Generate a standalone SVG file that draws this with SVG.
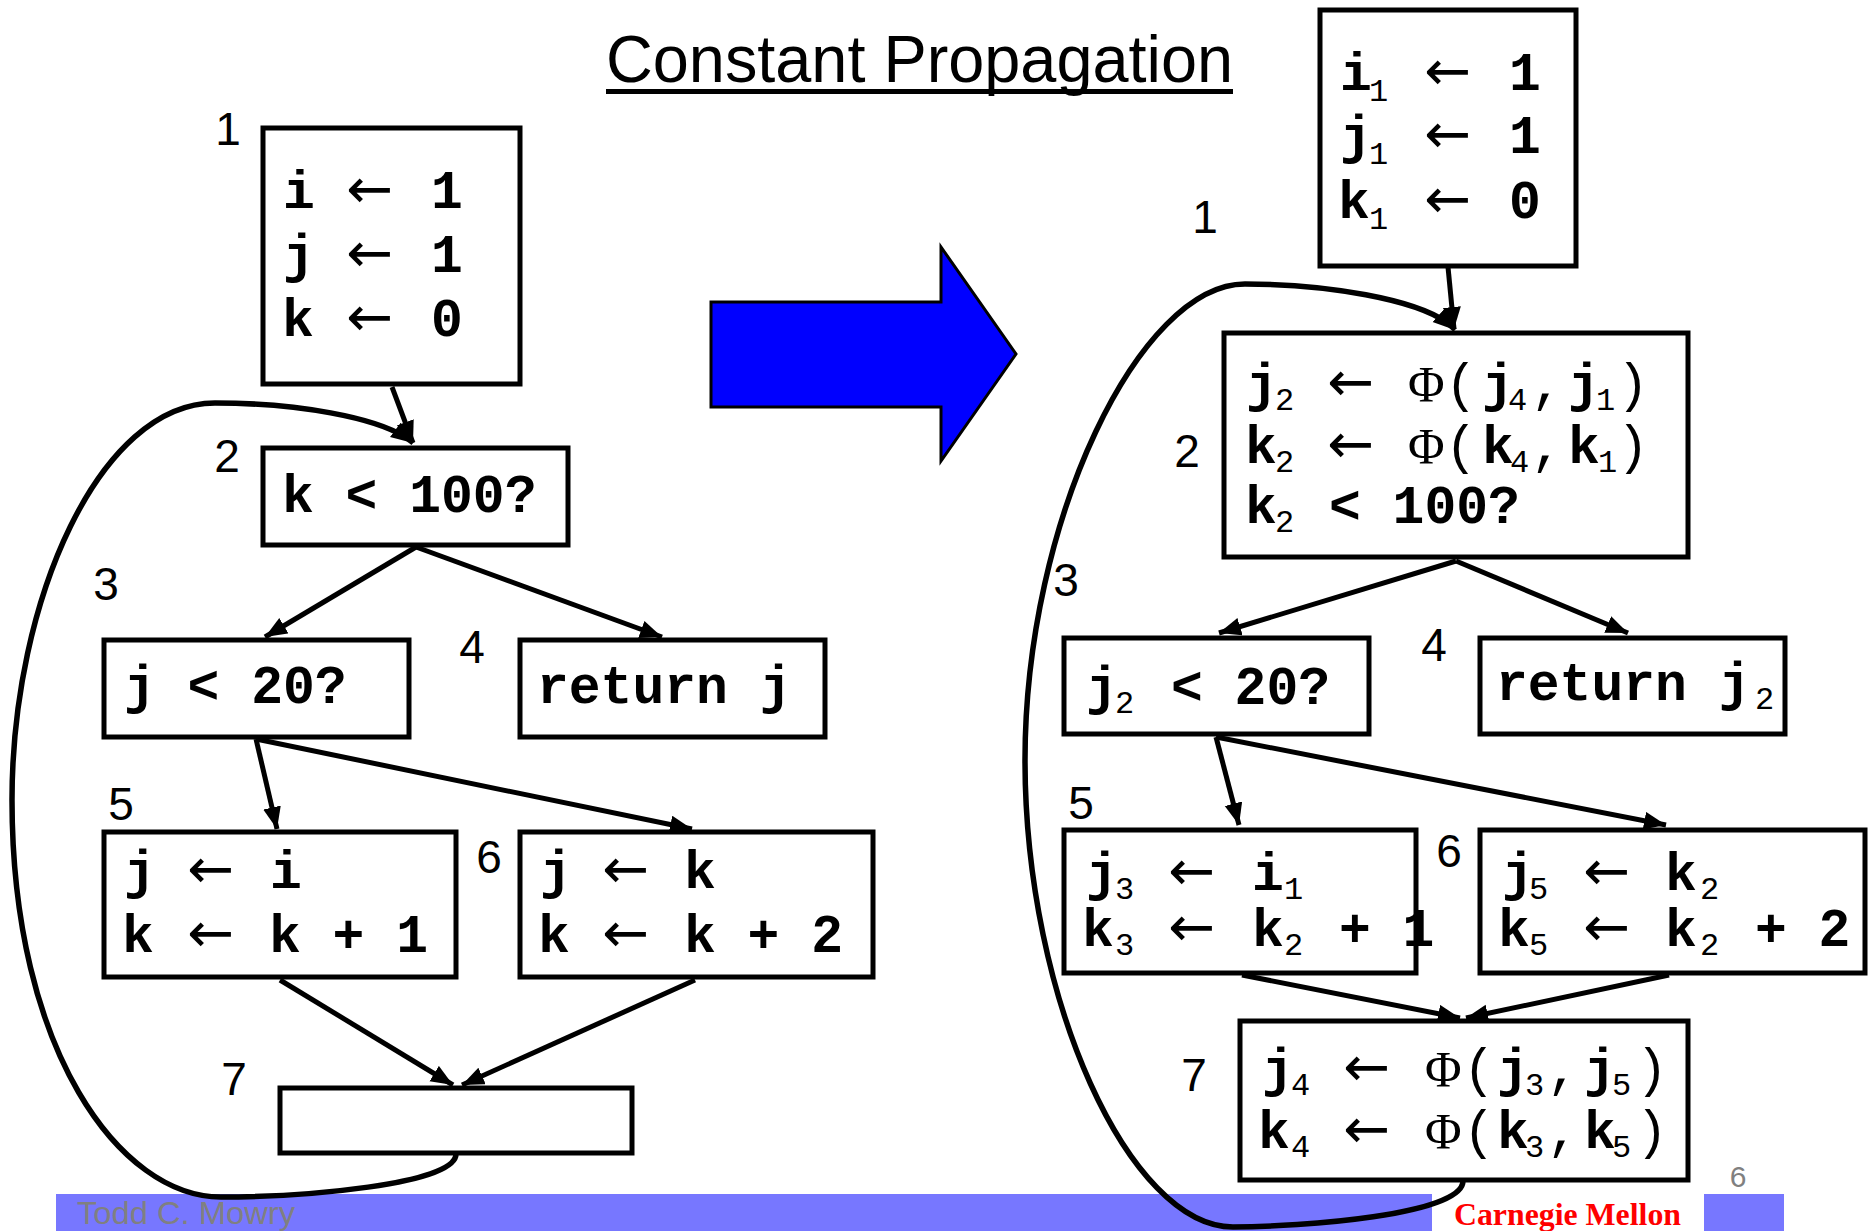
<svg xmlns="http://www.w3.org/2000/svg" width="1871" height="1231" viewBox="0 0 1871 1231">
<defs>
<marker id="ah" markerUnits="userSpaceOnUse" markerWidth="24" markerHeight="20" refX="22" refY="9" orient="auto">
<path d="M0,0 L22,9 L0,18 z" fill="#000"/>
</marker>
<style>
.box{fill:#fff;stroke:#000;stroke-width:5}
.edge{fill:none;stroke:#000;stroke-width:5;marker-end:url(#ah)}
.loop{fill:none;stroke:#000;stroke-width:5.5}
.c{font-family:"Liberation Mono","Courier New",monospace;font-weight:bold;font-size:53px;fill:#000}
.p{font-weight:normal}
.ar{font-family:"DejaVu Sans",sans-serif;font-weight:normal;font-size:56px}
.ph{font-family:"Liberation Serif","Times New Roman",serif;font-weight:normal;font-size:50px}
.s{font-family:"Liberation Mono","Courier New",monospace;font-weight:normal;font-size:32px}
.lbl{font-family:"Liberation Sans",Arial,sans-serif;font-size:46px;fill:#000}
</style>
</defs>
<rect width="1871" height="1231" fill="#fff"/>

<!-- footer -->
<g id="footer">
<rect x="56" y="1194" width="1376" height="37" fill="#7777ff"/>
<rect x="1704" y="1194" width="80" height="37" fill="#7777ff"/>
<text x="77" y="1224" font-family="Liberation Sans,Arial,sans-serif" font-size="32" fill="#808080" textLength="218" lengthAdjust="spacingAndGlyphs">Todd C. Mowry</text>
<text x="1454" y="1225" font-family="Liberation Serif,Times New Roman,serif" font-weight="bold" font-size="31" fill="#ff0000" textLength="227" lengthAdjust="spacingAndGlyphs">Carnegie Mellon</text>
<text x="1738" y="1187" text-anchor="middle" font-family="Liberation Sans,Arial,sans-serif" font-size="30" fill="#808080">6</text>
</g>

<!-- title -->
<g id="title">
<text x="606" y="82" font-family="Liberation Sans,Arial,sans-serif" font-size="66" fill="#000" textLength="627" lengthAdjust="spacingAndGlyphs">Constant Propagation</text>
<rect x="606" y="89" width="627" height="5" fill="#000"/>
</g>

<!-- big blue arrow -->
<g id="bigarrow">
<polygon points="711,302 941,302 941,247 1016,354 941,461 941,407 711,407" fill="#0000ff" stroke="#000" stroke-width="3"/>
</g>

<!-- connectors -->
<g id="connectors">
<path class="loop" d="M456,1154 C456,1185 300,1197 221,1197 C120,1197 12,1050 12,800 C12,600 100,403 215,403 C300,403 375,418 405,437"/>
<path class="edge" d="M405,437 L413,443"/>
<line class="edge" x1="392" y1="387" x2="413" y2="443"/>
<line class="edge" x1="416" y1="547" x2="265" y2="637"/>
<line class="edge" x1="416" y1="547" x2="662" y2="637"/>
<line class="edge" x1="256" y1="739" x2="277" y2="829"/>
<line class="edge" x1="256" y1="739" x2="692" y2="829"/>
<line class="edge" x1="280" y1="980" x2="453" y2="1085"/>
<line class="edge" x1="695" y1="980" x2="462" y2="1085"/>

<path class="loop" d="M1463,1181 C1463,1215 1300,1227 1233,1227 C1130,1227 1025,1000 1025,760 C1025,520 1140,284 1245,284 C1330,284 1415,300 1446,322"/>
<path class="edge" d="M1446,322 L1455,330"/>
<line class="edge" x1="1448" y1="267" x2="1454" y2="329"/>
<line class="edge" x1="1456" y1="561" x2="1219" y2="633"/>
<line class="edge" x1="1456" y1="561" x2="1628" y2="633"/>
<line class="edge" x1="1216" y1="737" x2="1239" y2="825"/>
<line class="edge" x1="1216" y1="737" x2="1666" y2="825"/>
<line class="edge" x1="1242" y1="975" x2="1460" y2="1018"/>
<line class="edge" x1="1669" y1="975" x2="1466" y2="1018"/>
</g>

<!-- LEFT CFG -->
<g id="L1">
<rect class="box" x="263" y="128" width="257" height="256"/>
<text class="lbl" x="228" y="145" text-anchor="middle">1</text>
<text class="c" y="208"><tspan x="283">i</tspan><tspan class="ar" x="346">←</tspan><tspan x="431">1</tspan></text>
<text class="c" y="272"><tspan x="283">j</tspan><tspan class="ar" x="346">←</tspan><tspan x="431">1</tspan></text>
<text class="c" y="336"><tspan x="282">k</tspan><tspan class="ar" x="346">←</tspan><tspan x="431">0</tspan></text>
</g>
<g id="L2">
<rect class="box" x="263" y="448" width="305" height="97"/>
<text class="lbl" x="227" y="472" text-anchor="middle">2</text>
<text class="c" x="282" y="512" xml:space="preserve">k &lt; 100?</text>
</g>
<g id="L3">
<rect class="box" x="104" y="640" width="305" height="97"/>
<text class="lbl" x="106" y="600" text-anchor="middle">3</text>
<text class="c" x="124" y="703" xml:space="preserve">j &lt; 20?</text>
</g>
<g id="L4">
<rect class="box" x="520" y="640" width="305" height="97"/>
<text class="lbl" x="472" y="663" text-anchor="middle">4</text>
<text class="c" x="537" y="703" xml:space="preserve">return j</text>
</g>
<g id="L5">
<rect class="box" x="104" y="832" width="352" height="145"/>
<text class="lbl" x="121" y="820" text-anchor="middle">5</text>
<text class="c" y="888"><tspan x="124">j</tspan><tspan class="ar" x="187">←</tspan><tspan x="270">i</tspan></text>
<text class="c" y="952" xml:space="preserve"><tspan x="122">k</tspan><tspan class="ar" x="187">←</tspan><tspan x="269">k + 1</tspan></text>
</g>
<g id="L6">
<rect class="box" x="520" y="832" width="353" height="145"/>
<text class="lbl" x="489" y="873" text-anchor="middle">6</text>
<text class="c" y="888"><tspan x="540">j</tspan><tspan class="ar" x="602">←</tspan><tspan x="684">k</tspan></text>
<text class="c" y="952" xml:space="preserve"><tspan x="538">k</tspan><tspan class="ar" x="602">←</tspan><tspan x="684">k + 2</tspan></text>
</g>
<g id="L7">
<rect class="box" x="280" y="1088" width="352" height="65"/>
<text class="lbl" x="234" y="1095" text-anchor="middle">7</text>
</g>

<!-- RIGHT CFG (SSA) -->
<g id="R1">
<rect class="box" x="1320" y="10" width="256" height="256"/>
<text class="lbl" x="1205" y="233" text-anchor="middle">1</text>
<text class="c" y="90"><tspan x="1340">i</tspan><tspan class="s" x="1369" dy="11">1</tspan><tspan class="ar" x="1424" dy="-11">←</tspan><tspan x="1509">1</tspan></text>
<text class="c" y="153"><tspan x="1340">j</tspan><tspan class="s" x="1369" dy="11">1</tspan><tspan class="ar" x="1424" dy="-11">←</tspan><tspan x="1509">1</tspan></text>
<text class="c" y="218"><tspan x="1338">k</tspan><tspan class="s" x="1369" dy="11">1</tspan><tspan class="ar" x="1424" dy="-11">←</tspan><tspan x="1509">0</tspan></text>
</g>
<g id="R2">
<rect class="box" x="1224" y="333" width="464" height="224"/>
<text class="lbl" x="1187" y="467" text-anchor="middle">2</text>
<text class="c" y="401"><tspan x="1246">j</tspan><tspan class="s" x="1275" dy="9">2</tspan><tspan class="ar" x="1327" dy="-9">←</tspan><tspan class="ph" x="1408">Φ</tspan><tspan class="p" x="1445">(</tspan><tspan x="1482">j</tspan><tspan class="s" x="1508" dy="9">4</tspan><tspan class="p" x="1531" dy="-9">,</tspan><tspan x="1568">j</tspan><tspan class="s" x="1596" dy="9">1</tspan><tspan class="p" x="1617" dy="-9">)</tspan></text>
<text class="c" y="463"><tspan x="1245">k</tspan><tspan class="s" x="1275" dy="9">2</tspan><tspan class="ar" x="1327" dy="-9">←</tspan><tspan class="ph" x="1408">Φ</tspan><tspan class="p" x="1445">(</tspan><tspan x="1482">k</tspan><tspan class="s" x="1510" dy="9">4</tspan><tspan class="p" x="1531" dy="-9">,</tspan><tspan x="1568">k</tspan><tspan class="s" x="1598" dy="9">1</tspan><tspan class="p" x="1617" dy="-9">)</tspan></text>
<text class="c" y="523" xml:space="preserve"><tspan x="1245">k</tspan><tspan class="s" x="1275" dy="9">2</tspan><tspan x="1329" dy="-9">&lt; 100?</tspan></text>
</g>
<g id="R3">
<rect class="box" x="1064" y="638" width="305" height="96"/>
<text class="lbl" x="1066" y="596" text-anchor="middle">3</text>
<text class="c" y="704" xml:space="preserve"><tspan x="1086">j</tspan><tspan class="s" x="1115" dy="9">2</tspan><tspan x="1171" dy="-9">&lt; 20?</tspan></text>
</g>
<g id="R4">
<rect class="box" x="1480" y="638" width="305" height="96"/>
<text class="lbl" x="1434" y="661" text-anchor="middle">4</text>
<text class="c" y="700" xml:space="preserve"><tspan x="1496">return j</tspan><tspan class="s" x="1755" dy="9">2</tspan></text>
</g>
<g id="R5">
<rect class="box" x="1064" y="830" width="352" height="143"/>
<text class="lbl" x="1081" y="819" text-anchor="middle">5</text>
<text class="c" y="890"><tspan x="1086">j</tspan><tspan class="s" x="1115" dy="9">3</tspan><tspan class="ar" x="1168" dy="-9">←</tspan><tspan x="1252">i</tspan><tspan class="s" x="1284" dy="9">1</tspan></text>
<text class="c" y="946" xml:space="preserve"><tspan x="1082">k</tspan><tspan class="s" x="1115" dy="9">3</tspan><tspan class="ar" x="1168" dy="-9">←</tspan><tspan x="1252">k</tspan><tspan class="s" x="1284" dy="9">2</tspan><tspan x="1339" dy="-9">+ 1</tspan></text>
</g>
<g id="R6">
<rect class="box" x="1480" y="830" width="385" height="143"/>
<text class="lbl" x="1449" y="867" text-anchor="middle">6</text>
<text class="c" y="890"><tspan x="1502">j</tspan><tspan class="s" x="1529" dy="9">5</tspan><tspan class="ar" x="1583" dy="-9">←</tspan><tspan x="1665">k</tspan><tspan class="s" x="1700" dy="9">2</tspan></text>
<text class="c" y="946" xml:space="preserve"><tspan x="1498">k</tspan><tspan class="s" x="1529" dy="9">5</tspan><tspan class="ar" x="1583" dy="-9">←</tspan><tspan x="1665">k</tspan><tspan class="s" x="1700" dy="9">2</tspan><tspan x="1755" dy="-9">+ 2</tspan></text>
</g>
<g id="R7">
<rect class="box" x="1240" y="1021" width="448" height="159"/>
<text class="lbl" x="1194" y="1091" text-anchor="middle">7</text>
<text class="c" y="1086"><tspan x="1262">j</tspan><tspan class="s" x="1291" dy="9">4</tspan><tspan class="ar" x="1343" dy="-9">←</tspan><tspan class="ph" x="1425">Φ</tspan><tspan class="p" x="1463">(</tspan><tspan x="1497">j</tspan><tspan class="s" x="1525" dy="9">3</tspan><tspan class="p" x="1547" dy="-9">,</tspan><tspan x="1584">j</tspan><tspan class="s" x="1612" dy="9">5</tspan><tspan class="p" x="1636" dy="-9">)</tspan></text>
<text class="c" y="1148"><tspan x="1258">k</tspan><tspan class="s" x="1291" dy="9">4</tspan><tspan class="ar" x="1343" dy="-9">←</tspan><tspan class="ph" x="1425">Φ</tspan><tspan class="p" x="1463">(</tspan><tspan x="1497">k</tspan><tspan class="s" x="1525" dy="9">3</tspan><tspan class="p" x="1547" dy="-9">,</tspan><tspan x="1584">k</tspan><tspan class="s" x="1612" dy="9">5</tspan><tspan class="p" x="1636" dy="-9">)</tspan></text>
</g>
</svg>
